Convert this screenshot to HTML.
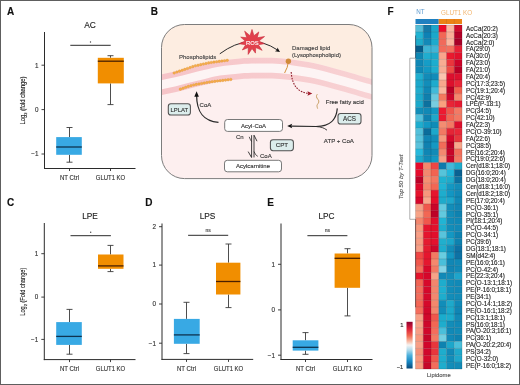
<!DOCTYPE html>
<html><head><meta charset="utf-8"><style>
html,body{margin:0;padding:0;background:#fff;}
body{width:520px;height:385px;overflow:hidden;}
svg{display:block;font-family:"Liberation Sans", sans-serif;will-change:transform;}
text{paint-order:stroke;stroke:currentColor;stroke-width:0.13px;}
</style></head><body>
<svg width="520" height="385" viewBox="0 0 520 385">
<rect x="0" y="0" width="520" height="385" fill="#fff"/>
<text x="6.9" y="15.2" font-size="10" text-anchor="start" fill="#111" color="#111" font-weight="bold" >A</text>
<text x="90" y="27.9" font-size="8.4" text-anchor="middle" fill="#222" color="#222" font-weight="normal" >AC</text>
<line x1="44.5" y1="32" x2="44.5" y2="169.0" stroke="#2b2b2b" stroke-width="1" />
<line x1="44.0" y1="168.5" x2="135.5" y2="168.5" stroke="#2b2b2b" stroke-width="1" />
<line x1="41.5" y1="65.2" x2="44.5" y2="65.2" stroke="#2b2b2b" stroke-width="0.9" />
<text x="38.5" y="67.5" font-size="6.3" text-anchor="end" fill="#333" color="#333" font-weight="normal" >1</text>
<line x1="41.5" y1="109.6" x2="44.5" y2="109.6" stroke="#2b2b2b" stroke-width="0.9" />
<text x="38.5" y="111.89999999999999" font-size="6.3" text-anchor="end" fill="#333" color="#333" font-weight="normal" >0</text>
<line x1="41.5" y1="154" x2="44.5" y2="154" stroke="#2b2b2b" stroke-width="0.9" />
<text x="38.5" y="156.3" font-size="6.3" text-anchor="end" fill="#333" color="#333" font-weight="normal" >−1</text>
<line x1="69.5" y1="168.5" x2="69.5" y2="171.0" stroke="#2b2b2b" stroke-width="0.9" />
<line x1="110.5" y1="168.5" x2="110.5" y2="171.0" stroke="#2b2b2b" stroke-width="0.9" />
<text x="59.9" y="180.1" font-size="6.9" text-anchor="start" fill="#333" color="#333" font-weight="normal" textLength="19.2" lengthAdjust="spacingAndGlyphs">NT Ctrl</text>
<text x="95.8" y="180.1" font-size="6.9" text-anchor="start" fill="#333" color="#333" font-weight="normal" textLength="29.4" lengthAdjust="spacingAndGlyphs">GLUT1 KO</text>
<text transform="translate(25.2,100.5) rotate(-90)" x="-24" y="0" font-size="6.4" fill="#222" color="#222" textLength="48" lengthAdjust="spacingAndGlyphs">Log<tspan font-size="4.4" dy="1.6">2</tspan><tspan dy="-1.6"> (fold change)</tspan></text>
<line x1="70.3" y1="45.3" x2="110.7" y2="45.3" stroke="#2b2b2b" stroke-width="1" />
<circle cx="90.5" cy="42" r="0.7" fill="#444"/>
<line x1="69.5" y1="127.5" x2="69.5" y2="137.1" stroke="#3a3a3a" stroke-width="0.9" />
<line x1="69.5" y1="154.8" x2="69.5" y2="162.2" stroke="#3a3a3a" stroke-width="0.9" />
<line x1="66.5" y1="127.5" x2="72.5" y2="127.5" stroke="#3a3a3a" stroke-width="0.9" />
<line x1="66.5" y1="162.2" x2="72.5" y2="162.2" stroke="#3a3a3a" stroke-width="0.9" />
<rect x="56.2" y="137.1" width="25.599999999999994" height="17.700000000000017" fill="#38a9e4"/>
<line x1="56.2" y1="147" x2="81.8" y2="147" stroke="#0e3350" stroke-width="1.3" />
<line x1="110.5" y1="55.7" x2="110.5" y2="57.8" stroke="#3a3a3a" stroke-width="0.9" />
<line x1="110.5" y1="83.4" x2="110.5" y2="104.6" stroke="#3a3a3a" stroke-width="0.9" />
<line x1="107.5" y1="55.7" x2="113.5" y2="55.7" stroke="#3a3a3a" stroke-width="0.9" />
<line x1="107.5" y1="104.6" x2="113.5" y2="104.6" stroke="#3a3a3a" stroke-width="0.9" />
<rect x="97.8" y="57.8" width="26.0" height="25.60000000000001" fill="#f18e00"/>
<line x1="97.8" y1="61.2" x2="123.8" y2="61.2" stroke="#4a2000" stroke-width="1.3" />
<text x="7.0" y="206.3" font-size="10" text-anchor="start" fill="#111" color="#111" font-weight="bold" >C</text>
<text x="90" y="218.8" font-size="8.3" text-anchor="middle" fill="#222" color="#222" font-weight="normal" >LPE</text>
<line x1="44.3" y1="223" x2="44.3" y2="360.1" stroke="#2b2b2b" stroke-width="1" />
<line x1="43.8" y1="359.6" x2="135.5" y2="359.6" stroke="#2b2b2b" stroke-width="1" />
<line x1="41.3" y1="253.7" x2="44.3" y2="253.7" stroke="#2b2b2b" stroke-width="0.9" />
<text x="38.3" y="256.0" font-size="6.3" text-anchor="end" fill="#333" color="#333" font-weight="normal" >1</text>
<line x1="41.3" y1="297.1" x2="44.3" y2="297.1" stroke="#2b2b2b" stroke-width="0.9" />
<text x="38.3" y="299.40000000000003" font-size="6.3" text-anchor="end" fill="#333" color="#333" font-weight="normal" >0</text>
<line x1="41.3" y1="339.4" x2="44.3" y2="339.4" stroke="#2b2b2b" stroke-width="0.9" />
<text x="38.3" y="341.7" font-size="6.3" text-anchor="end" fill="#333" color="#333" font-weight="normal" >−1</text>
<line x1="69.5" y1="359.6" x2="69.5" y2="362.1" stroke="#2b2b2b" stroke-width="0.9" />
<line x1="110.5" y1="359.6" x2="110.5" y2="362.1" stroke="#2b2b2b" stroke-width="0.9" />
<text x="59.9" y="370.8" font-size="6.9" text-anchor="start" fill="#333" color="#333" font-weight="normal" textLength="19.2" lengthAdjust="spacingAndGlyphs">NT Ctrl</text>
<text x="95.8" y="370.8" font-size="6.9" text-anchor="start" fill="#333" color="#333" font-weight="normal" textLength="29.4" lengthAdjust="spacingAndGlyphs">GLUT1 KO</text>
<text transform="translate(25.2,291.7) rotate(-90)" x="-24" y="0" font-size="6.4" fill="#222" color="#222" textLength="48" lengthAdjust="spacingAndGlyphs">Log<tspan font-size="4.4" dy="1.6">2</tspan><tspan dy="-1.6"> (Fold change)</tspan></text>
<line x1="70.5" y1="235.7" x2="110.9" y2="235.7" stroke="#2b2b2b" stroke-width="1" />
<circle cx="90.7" cy="232.3" r="0.7" fill="#444"/>
<line x1="69.5" y1="309.4" x2="69.5" y2="322.1" stroke="#3a3a3a" stroke-width="0.9" />
<line x1="69.5" y1="344.9" x2="69.5" y2="354.2" stroke="#3a3a3a" stroke-width="0.9" />
<line x1="66.5" y1="309.4" x2="72.5" y2="309.4" stroke="#3a3a3a" stroke-width="0.9" />
<line x1="66.5" y1="354.2" x2="72.5" y2="354.2" stroke="#3a3a3a" stroke-width="0.9" />
<rect x="56.2" y="322.1" width="25.599999999999994" height="22.799999999999955" fill="#38a9e4"/>
<line x1="56.2" y1="336.4" x2="81.8" y2="336.4" stroke="#0e3350" stroke-width="1.3" />
<line x1="110.5" y1="245.4" x2="110.5" y2="254.5" stroke="#3a3a3a" stroke-width="0.9" />
<line x1="110.5" y1="268.8" x2="110.5" y2="271.6" stroke="#3a3a3a" stroke-width="0.9" />
<line x1="107.5" y1="245.4" x2="113.5" y2="245.4" stroke="#3a3a3a" stroke-width="0.9" />
<line x1="107.5" y1="271.6" x2="113.5" y2="271.6" stroke="#3a3a3a" stroke-width="0.9" />
<rect x="98" y="254.5" width="25.5" height="14.300000000000011" fill="#f18e00"/>
<line x1="98" y1="265.9" x2="123.5" y2="265.9" stroke="#4a2000" stroke-width="1.3" />
<text x="145.3" y="206.3" font-size="10" text-anchor="start" fill="#111" color="#111" font-weight="bold" >D</text>
<text x="207.5" y="218.7" font-size="8.3" text-anchor="middle" fill="#222" color="#222" font-weight="normal" >LPS</text>
<line x1="162" y1="223.5" x2="162" y2="359.9" stroke="#2b2b2b" stroke-width="1" />
<line x1="161.5" y1="359.4" x2="253.2" y2="359.4" stroke="#2b2b2b" stroke-width="1" />
<line x1="159" y1="226.7" x2="162" y2="226.7" stroke="#2b2b2b" stroke-width="0.9" />
<text x="156.0" y="229.0" font-size="6.3" text-anchor="end" fill="#333" color="#333" font-weight="normal" >2</text>
<line x1="159" y1="265.1" x2="162" y2="265.1" stroke="#2b2b2b" stroke-width="0.9" />
<text x="156.0" y="267.40000000000003" font-size="6.3" text-anchor="end" fill="#333" color="#333" font-weight="normal" >1</text>
<line x1="159" y1="304" x2="162" y2="304" stroke="#2b2b2b" stroke-width="0.9" />
<text x="156.0" y="306.3" font-size="6.3" text-anchor="end" fill="#333" color="#333" font-weight="normal" >0</text>
<line x1="159" y1="343.2" x2="162" y2="343.2" stroke="#2b2b2b" stroke-width="0.9" />
<text x="156.0" y="345.5" font-size="6.3" text-anchor="end" fill="#333" color="#333" font-weight="normal" >−1</text>
<line x1="186.5" y1="359.4" x2="186.5" y2="361.9" stroke="#2b2b2b" stroke-width="0.9" />
<line x1="228.5" y1="359.4" x2="228.5" y2="361.9" stroke="#2b2b2b" stroke-width="0.9" />
<text x="176.9" y="370.5" font-size="6.9" text-anchor="start" fill="#333" color="#333" font-weight="normal" textLength="19.2" lengthAdjust="spacingAndGlyphs">NT Ctrl</text>
<text x="213.8" y="370.5" font-size="6.9" text-anchor="start" fill="#333" color="#333" font-weight="normal" textLength="29.4" lengthAdjust="spacingAndGlyphs">GLUT1 KO</text>
<line x1="188.1" y1="235.3" x2="228.2" y2="235.3" stroke="#2b2b2b" stroke-width="1" />
<text x="208.14999999999998" y="232" font-size="5" text-anchor="middle" fill="#444" color="#444" font-weight="normal" >ns</text>
<line x1="186.5" y1="302.3" x2="186.5" y2="318.9" stroke="#3a3a3a" stroke-width="0.9" />
<line x1="186.5" y1="343.8" x2="186.5" y2="353.6" stroke="#3a3a3a" stroke-width="0.9" />
<line x1="183.5" y1="302.3" x2="189.5" y2="302.3" stroke="#3a3a3a" stroke-width="0.9" />
<line x1="183.5" y1="353.6" x2="189.5" y2="353.6" stroke="#3a3a3a" stroke-width="0.9" />
<rect x="173.9" y="318.9" width="25.799999999999983" height="24.900000000000034" fill="#38a9e4"/>
<line x1="173.9" y1="334.9" x2="199.7" y2="334.9" stroke="#0e3350" stroke-width="1.3" />
<line x1="228.5" y1="244" x2="228.5" y2="262.7" stroke="#3a3a3a" stroke-width="0.9" />
<line x1="228.5" y1="294.5" x2="228.5" y2="307.6" stroke="#3a3a3a" stroke-width="0.9" />
<line x1="225.5" y1="244" x2="231.5" y2="244" stroke="#3a3a3a" stroke-width="0.9" />
<line x1="225.5" y1="307.6" x2="231.5" y2="307.6" stroke="#3a3a3a" stroke-width="0.9" />
<rect x="216" y="262.7" width="24.400000000000006" height="31.80000000000001" fill="#f18e00"/>
<line x1="216" y1="281.5" x2="240.4" y2="281.5" stroke="#4a2000" stroke-width="1.3" />
<text x="267.3" y="206.1" font-size="10" text-anchor="start" fill="#111" color="#111" font-weight="bold" >E</text>
<text x="326.5" y="218.7" font-size="8.3" text-anchor="middle" fill="#222" color="#222" font-weight="normal" >LPC</text>
<line x1="281" y1="223.5" x2="281" y2="360.0" stroke="#2b2b2b" stroke-width="1" />
<line x1="280.5" y1="359.5" x2="372.5" y2="359.5" stroke="#2b2b2b" stroke-width="1" />
<line x1="278" y1="264.3" x2="281" y2="264.3" stroke="#2b2b2b" stroke-width="0.9" />
<text x="275.0" y="266.6" font-size="6.3" text-anchor="end" fill="#333" color="#333" font-weight="normal" >1</text>
<line x1="278" y1="309.9" x2="281" y2="309.9" stroke="#2b2b2b" stroke-width="0.9" />
<text x="275.0" y="312.2" font-size="6.3" text-anchor="end" fill="#333" color="#333" font-weight="normal" >0</text>
<line x1="278" y1="355.2" x2="281" y2="355.2" stroke="#2b2b2b" stroke-width="0.9" />
<text x="275.0" y="357.5" font-size="6.3" text-anchor="end" fill="#333" color="#333" font-weight="normal" >−1</text>
<line x1="305.5" y1="359.5" x2="305.5" y2="362.0" stroke="#2b2b2b" stroke-width="0.9" />
<line x1="347.5" y1="359.5" x2="347.5" y2="362.0" stroke="#2b2b2b" stroke-width="0.9" />
<text x="295.9" y="370.6" font-size="6.9" text-anchor="start" fill="#333" color="#333" font-weight="normal" textLength="19.2" lengthAdjust="spacingAndGlyphs">NT Ctrl</text>
<text x="332.8" y="370.6" font-size="6.9" text-anchor="start" fill="#333" color="#333" font-weight="normal" textLength="29.4" lengthAdjust="spacingAndGlyphs">GLUT1 KO</text>
<line x1="307.4" y1="235.7" x2="347.4" y2="235.7" stroke="#2b2b2b" stroke-width="1" />
<text x="327.4" y="232.4" font-size="5" text-anchor="middle" fill="#444" color="#444" font-weight="normal" >ns</text>
<line x1="305.5" y1="332.6" x2="305.5" y2="340.3" stroke="#3a3a3a" stroke-width="0.9" />
<line x1="305.5" y1="350.6" x2="305.5" y2="354.3" stroke="#3a3a3a" stroke-width="0.9" />
<line x1="302.5" y1="332.6" x2="308.5" y2="332.6" stroke="#3a3a3a" stroke-width="0.9" />
<line x1="302.5" y1="354.3" x2="308.5" y2="354.3" stroke="#3a3a3a" stroke-width="0.9" />
<rect x="292.7" y="340.3" width="25.69999999999999" height="10.300000000000011" fill="#38a9e4"/>
<line x1="292.7" y1="347.3" x2="318.4" y2="347.3" stroke="#0e3350" stroke-width="1.3" />
<line x1="347.5" y1="248.7" x2="347.5" y2="253.5" stroke="#3a3a3a" stroke-width="0.9" />
<line x1="347.5" y1="287.8" x2="347.5" y2="315.9" stroke="#3a3a3a" stroke-width="0.9" />
<line x1="344.5" y1="248.7" x2="350.5" y2="248.7" stroke="#3a3a3a" stroke-width="0.9" />
<line x1="344.5" y1="315.9" x2="350.5" y2="315.9" stroke="#3a3a3a" stroke-width="0.9" />
<rect x="334.6" y="253.5" width="25.5" height="34.30000000000001" fill="#f18e00"/>
<line x1="334.6" y1="258.3" x2="360.1" y2="258.3" stroke="#4a2000" stroke-width="1.3" />
<text x="150.8" y="14.9" font-size="10" text-anchor="start" fill="#111" color="#111" font-weight="bold" >B</text>
<defs><clipPath id="cb"><rect x="161.5" y="24.5" width="210.5" height="154.1" rx="23"/></clipPath></defs>
<g clip-path="url(#cb)">
<rect x="161.5" y="24.5" width="210.5" height="154.1" fill="#fdefef"/>
<path d="M150,78.2 C151.83,77.58 156.83,75.62 161,74.5 C165.17,73.38 170.17,72.65 175,71.5 C179.83,70.35 185.00,68.87 190,67.6 C195.00,66.33 200.00,65.07 205,63.9 C210.00,62.73 214.17,61.52 220,60.6 C225.83,59.68 233.67,58.87 240,58.4 C246.33,57.93 251.33,57.83 258,57.8 C264.67,57.77 273.00,57.70 280,58.2 C287.00,58.70 293.33,59.75 300,60.8 C306.67,61.85 312.50,62.75 320,64.5 C327.50,66.25 336.33,68.85 345,71.3 C353.67,73.75 365.33,77.22 372,79.2 C378.67,81.18 382.83,82.53 385,83.2 L385,0 L150,0 Z" fill="#fdede1"/>
<path d="M150,84.0 C151.83,83.38 156.83,81.42 161,80.3 C165.17,79.18 170.17,78.45 175,77.3 C179.83,76.15 185.00,74.67 190,73.4 C195.00,72.13 200.00,70.87 205,69.7 C210.00,68.53 214.17,67.32 220,66.4 C225.83,65.48 233.67,64.67 240,64.2 C246.33,63.73 251.33,63.63 258,63.6 C264.67,63.57 273.00,63.50 280,64.0 C287.00,64.50 293.33,65.55 300,66.6 C306.67,67.65 312.50,68.55 320,70.3 C327.50,72.05 336.33,74.65 345,77.1 C353.67,79.55 365.33,83.02 372,85.0 C378.67,86.98 382.83,88.33 385,89.0 L385,98.2 L385,98.2 C382.83,97.53 378.67,96.18 372,94.2 C365.33,92.22 353.67,88.75 345,86.3 C336.33,83.85 327.50,81.25 320,79.5 C312.50,77.75 306.67,76.85 300,75.8 C293.33,74.75 287.00,73.70 280,73.2 C273.00,72.70 264.67,72.77 258,72.8 C251.33,72.83 246.33,72.93 240,73.4 C233.67,73.87 225.83,74.68 220,75.6 C214.17,76.52 210.00,77.73 205,78.9 C200.00,80.07 195.00,81.33 190,82.6 C185.00,83.87 179.83,85.35 175,86.5 C170.17,87.65 165.17,88.38 161,89.5 C156.83,90.62 151.83,92.58 150,93.2 Z" fill="#fdf4f4" opacity="1"/>
<defs><linearGradient id="bg1" gradientUnits="userSpaceOnUse" x1="160" y1="0" x2="372" y2="0"><stop offset="0" stop-color="#f6c4c8"/><stop offset="0.45" stop-color="#f7cacd"/><stop offset="1" stop-color="#f8d2d4"/></linearGradient></defs>
<path d="M150,78.2 C151.83,77.58 156.83,75.62 161,74.5 C165.17,73.38 170.17,72.65 175,71.5 C179.83,70.35 185.00,68.87 190,67.6 C195.00,66.33 200.00,65.07 205,63.9 C210.00,62.73 214.17,61.52 220,60.6 C225.83,59.68 233.67,58.87 240,58.4 C246.33,57.93 251.33,57.83 258,57.8 C264.67,57.77 273.00,57.70 280,58.2 C287.00,58.70 293.33,59.75 300,60.8 C306.67,61.85 312.50,62.75 320,64.5 C327.50,66.25 336.33,68.85 345,71.3 C353.67,73.75 365.33,77.22 372,79.2 C378.67,81.18 382.83,82.53 385,83.2 L385,89.0 L385,89.0 C382.83,88.33 378.67,86.98 372,85.0 C365.33,83.02 353.67,79.55 345,77.1 C336.33,74.65 327.50,72.05 320,70.3 C312.50,68.55 306.67,67.65 300,66.6 C293.33,65.55 287.00,64.50 280,64.0 C273.00,63.50 264.67,63.57 258,63.6 C251.33,63.63 246.33,63.73 240,64.2 C233.67,64.67 225.83,65.48 220,66.4 C214.17,67.32 210.00,68.53 205,69.7 C200.00,70.87 195.00,72.13 190,73.4 C185.00,74.67 179.83,76.15 175,77.3 C170.17,78.45 165.17,79.18 161,80.3 C156.83,81.42 151.83,83.38 150,84.0 Z" fill="url(#bg1)" opacity="1"/>
<path d="M150,93.2 C151.83,92.58 156.83,90.62 161,89.5 C165.17,88.38 170.17,87.65 175,86.5 C179.83,85.35 185.00,83.87 190,82.6 C195.00,81.33 200.00,80.07 205,78.9 C210.00,77.73 214.17,76.52 220,75.6 C225.83,74.68 233.67,73.87 240,73.4 C246.33,72.93 251.33,72.83 258,72.8 C264.67,72.77 273.00,72.70 280,73.2 C287.00,73.70 293.33,74.75 300,75.8 C306.67,76.85 312.50,77.75 320,79.5 C327.50,81.25 336.33,83.85 345,86.3 C353.67,88.75 365.33,92.22 372,94.2 C378.67,96.18 382.83,97.53 385,98.2 L385,104.0 L385,104.0 C382.83,103.33 378.67,101.98 372,100.0 C365.33,98.02 353.67,94.55 345,92.1 C336.33,89.65 327.50,87.05 320,85.3 C312.50,83.55 306.67,82.65 300,81.6 C293.33,80.55 287.00,79.50 280,79.0 C273.00,78.50 264.67,78.57 258,78.6 C251.33,78.63 246.33,78.73 240,79.2 C233.67,79.67 225.83,80.48 220,81.4 C214.17,82.32 210.00,83.53 205,84.7 C200.00,85.87 195.00,87.13 190,88.4 C185.00,89.67 179.83,91.15 175,92.3 C170.17,93.45 165.17,94.18 161,95.3 C156.83,96.42 151.83,98.38 150,99.0 Z" fill="url(#bg1)" opacity="1"/>
</g>
<rect x="161.5" y="24.5" width="210.5" height="154.1" rx="23" fill="none" stroke="#7d7d7d" stroke-width="1"/>
<g fill="#f5ae4a" stroke="#e0953a" stroke-width="0.35"><circle cx="174.20" cy="72.96" r="1.3"/><circle cx="176.85" cy="72.06" r="1.3"/><circle cx="179.50" cy="71.17" r="1.3"/><circle cx="182.15" cy="70.27" r="1.3"/><circle cx="184.80" cy="69.37" r="1.3"/><circle cx="187.45" cy="68.47" r="1.3"/><circle cx="190.10" cy="67.57" r="1.3"/><circle cx="192.75" cy="66.66" r="1.3"/><circle cx="195.40" cy="65.81" r="1.3"/><circle cx="198.05" cy="65.23" r="1.3"/><circle cx="200.70" cy="64.65" r="1.3"/><circle cx="203.35" cy="64.06" r="1.3"/><circle cx="206.00" cy="63.48" r="1.3"/><circle cx="208.65" cy="62.90" r="1.3"/><circle cx="211.30" cy="62.43" r="1.3"/><circle cx="213.95" cy="62.09" r="1.3"/><circle cx="216.60" cy="61.74" r="1.3"/><circle cx="219.25" cy="61.40" r="1.3"/><circle cx="221.90" cy="61.05" r="1.3"/><circle cx="224.55" cy="60.71" r="1.3"/><circle cx="227.20" cy="60.36" r="1.3"/><circle cx="180.40" cy="89.16" r="1.3"/><circle cx="183.05" cy="88.23" r="1.3"/><circle cx="185.70" cy="87.30" r="1.3"/><circle cx="188.35" cy="86.40" r="1.3"/><circle cx="191.00" cy="85.69" r="1.3"/><circle cx="193.65" cy="84.97" r="1.3"/><circle cx="196.30" cy="84.38" r="1.3"/><circle cx="198.95" cy="83.93" r="1.3"/><circle cx="201.60" cy="83.47" r="1.3"/><circle cx="204.25" cy="83.02" r="1.3"/><circle cx="206.90" cy="82.57" r="1.3"/><circle cx="209.55" cy="82.12" r="1.3"/><circle cx="212.20" cy="81.68" r="1.3"/><circle cx="214.85" cy="81.36" r="1.3"/><circle cx="217.50" cy="81.04" r="1.3"/><circle cx="220.15" cy="80.72" r="1.3"/><circle cx="222.80" cy="80.40" r="1.3"/><circle cx="225.45" cy="80.09" r="1.3"/><circle cx="228.10" cy="79.77" r="1.3"/><circle cx="230.75" cy="79.45" r="1.3"/></g>
<text x="179" y="58.8" font-size="6" text-anchor="start" fill="#444" color="#444" font-weight="normal" >Phospholipids</text>
<path d="M219.8,53.8 Q250,31.5 277.5,50" fill="none" stroke="#2a2a2a" stroke-width="1"/>
<path d="M280.00,52.00 L274.90,51.34 L277.01,49.99 L277.47,47.52 Z" fill="#111"/>
<polygon points="252.00,29.46 253.94,35.71 258.81,31.93 257.21,37.71 264.55,36.55 258.83,41.07 264.27,43.68 258.28,44.72 262.13,50.34 255.73,47.51 255.44,53.12 252.00,48.55 248.17,54.40 248.27,47.51 242.33,49.96 245.72,44.72 239.13,43.76 245.17,41.07 240.72,37.11 246.79,37.71 244.65,31.13 250.06,35.71" fill="#e2404c" stroke="#c8283a" stroke-width="0.6"/>
<text x="252.3" y="45" font-size="5.8" text-anchor="middle" fill="#fff" color="#fff" font-weight="normal" >ROS</text>
<text x="292" y="49.9" font-size="6" text-anchor="start" fill="#444" color="#444" font-weight="normal" >Damaged lipid</text>
<text x="292" y="57.2" font-size="5.85" text-anchor="start" fill="#444" color="#444" font-weight="normal" >(Lysophospholipid)</text>
<path d="M288.3,62.5 C287.3,65 287.8,67 286.4,69 C285.6,70.4 285.4,71.5 284.6,73" fill="none" stroke="#d4903c" stroke-width="1"/>
<circle cx="288.4" cy="61.3" r="2.7" fill="#d08a3a"/>
<path d="M291.2,72 Q292.5,92 308.5,93.3" fill="none" stroke="#8e1c2a" stroke-width="1.1" stroke-dasharray="1.6,1.2"/>
<path d="M312.3,93.5 L307.4,91.2 L308.3,93.5 L307.4,95.8 Z" fill="#a01828"/>
<path d="M317.3,94.2 C316,95.8 316.2,97.5 318,99.5 C319.6,101.3 318.6,103 317.4,104.5 C316.6,105.6 317.2,107 317.6,108.6" fill="none" stroke="#c49a5c" stroke-width="0.95"/>
<text x="325.8" y="103.9" font-size="6" text-anchor="start" fill="#333" color="#333" font-weight="normal" >Free fatty acid</text>
<rect x="338" y="113.5" width="23" height="10.5" rx="2.6" fill="#dcedec" stroke="#505050" stroke-width="1.05"/>
<text x="349.5" y="120.95" font-size="6.3" text-anchor="middle" fill="#333" color="#333" font-weight="normal" >ACS</text>
<rect x="168.3" y="103.8" width="22.099999999999994" height="11.200000000000003" rx="2.6" fill="#dcedec" stroke="#505050" stroke-width="1.05"/>
<text x="179.35000000000002" y="111.60000000000001" font-size="5.9" text-anchor="middle" fill="#333" color="#333" font-weight="normal" >LPLAT</text>
<rect x="270.4" y="139.7" width="23.0" height="11.0" rx="2.6" fill="#dcedec" stroke="#505050" stroke-width="1.05"/>
<text x="281.9" y="147.39999999999998" font-size="6.2" text-anchor="middle" fill="#333" color="#333" font-weight="normal" >CPT</text>
<rect x="224.7" y="119.5" width="57.80000000000001" height="11.900000000000006" rx="2.8" fill="#fff" stroke="#6a6a6a" stroke-width="0.9"/>
<text x="253.6" y="127.65" font-size="6" text-anchor="middle" fill="#333" color="#333" font-weight="normal" >Acyl-CoA</text>
<rect x="224.5" y="160.3" width="57.0" height="11.5" rx="2.8" fill="#fff" stroke="#6a6a6a" stroke-width="0.9"/>
<text x="253.0" y="168.25" font-size="6" text-anchor="middle" fill="#333" color="#333" font-weight="normal" >Acylcarnitine</text>
<path d="M337.3,108.4 C336.5,118.5 332,126.3 316,126.5 L291,126.1" fill="none" stroke="#2a2a2a" stroke-width="1.2"/>
<path d="M287.20,126.00 L292.20,123.80 L291.20,126.00 L292.20,128.20 Z" fill="#111"/>
<path d="M327,130.2 C324,127.8 321,126.9 316.5,126.6" fill="none" stroke="#2a2a2a" stroke-width="0.9"/>
<text x="323.8" y="142.6" font-size="6.1" text-anchor="start" fill="#333" color="#333" font-weight="normal" >ATP + CoA</text>
<path d="M218.5,122.4 C203,121 196.6,112 196.6,95" fill="none" stroke="#2a2a2a" stroke-width="1.25"/>
<path d="M196.6,91.3 L194.3,96.8 L198.9,96.8 Z" fill="#111"/>
<text x="199.6" y="106.8" font-size="6" text-anchor="start" fill="#333" color="#333" font-weight="normal" >CoA</text>
<line x1="251.6" y1="135.2" x2="251.6" y2="157.4" stroke="#2a2a2a" stroke-width="0.9" />
<path d="M248.2,151.6 L251.6,157.6" stroke="#2a2a2a" stroke-width="0.9" fill="none"/>
<line x1="254" y1="135.2" x2="254" y2="157.4" stroke="#2a2a2a" stroke-width="0.9" />
<path d="M257.0,141.2 L254,135.2" stroke="#2a2a2a" stroke-width="0.9" fill="none"/>
<path d="M249.2,136.8 Q250.2,139.6 251.6,141.6" stroke="#2a2a2a" stroke-width="0.8" fill="none"/>
<path d="M254,151.5 Q255.2,155.2 257.8,156.4" stroke="#2a2a2a" stroke-width="0.8" fill="none"/>
<text x="236" y="139.4" font-size="6" text-anchor="start" fill="#333" color="#333" font-weight="normal" >Cn</text>
<text x="260" y="157.6" font-size="6" text-anchor="start" fill="#333" color="#333" font-weight="normal" >CoA</text>
<text x="387.6" y="15.0" font-size="10" text-anchor="start" fill="#111" color="#111" font-weight="bold" >F</text>
<text x="416.2" y="14.3" font-size="6.3" text-anchor="start" fill="#5e9bd0" color="#5e9bd0" font-weight="normal" style="stroke:none">NT</text>
<text x="441" y="14.5" font-size="6.3" text-anchor="start" fill="#f2b46c" color="#f2b46c" font-weight="normal" style="stroke:none">GLUT1 KO</text>
<rect x="415.5" y="19" width="23.25" height="5" fill="#1f80c0"/>
<rect x="438.75" y="19" width="23.25" height="5" fill="#ec8315"/>
<line x1="446.5" y1="19" x2="446.5" y2="24" stroke="#c06a20" stroke-width="0.4" />
<line x1="454.25" y1="19" x2="454.25" y2="24" stroke="#c06a20" stroke-width="0.4" />
<g><rect x="415.50" y="25.00" width="7.80" height="6.93" fill="#53bcd7"/><rect x="423.25" y="25.00" width="7.80" height="6.93" fill="#1479a8"/><rect x="431.00" y="25.00" width="7.80" height="6.93" fill="#1ea6cb"/><rect x="438.75" y="25.00" width="7.80" height="6.93" fill="#ed0c29"/><rect x="446.50" y="25.00" width="7.80" height="6.93" fill="#fbb79e"/><rect x="454.25" y="25.00" width="7.80" height="6.93" fill="#cd0b2b"/><rect x="415.50" y="31.88" width="7.80" height="6.93" fill="#22b3d2"/><rect x="423.25" y="31.88" width="7.80" height="6.93" fill="#0e81b4"/><rect x="431.00" y="31.88" width="7.80" height="6.93" fill="#1ba8cb"/><rect x="438.75" y="31.88" width="7.80" height="6.93" fill="#f26756"/><rect x="446.50" y="31.88" width="7.80" height="6.93" fill="#faaf98"/><rect x="454.25" y="31.88" width="7.80" height="6.93" fill="#b40228"/><rect x="415.50" y="38.76" width="7.80" height="6.93" fill="#1eaccb"/><rect x="423.25" y="38.76" width="7.80" height="6.93" fill="#1389b7"/><rect x="431.00" y="38.76" width="7.80" height="6.93" fill="#1daacd"/><rect x="438.75" y="38.76" width="7.80" height="6.93" fill="#f06a5b"/><rect x="446.50" y="38.76" width="7.80" height="6.93" fill="#fbb59e"/><rect x="454.25" y="38.76" width="7.80" height="6.93" fill="#a80028"/><rect x="415.50" y="45.64" width="7.80" height="6.93" fill="#045c8a"/><rect x="423.25" y="45.64" width="7.80" height="6.93" fill="#3eb4d4"/><rect x="431.00" y="45.64" width="7.80" height="6.93" fill="#41b5d6"/><rect x="438.75" y="45.64" width="7.80" height="6.93" fill="#f26c5c"/><rect x="446.50" y="45.64" width="7.80" height="6.93" fill="#f3705e"/><rect x="454.25" y="45.64" width="7.80" height="6.93" fill="#e82136"/><rect x="415.50" y="52.52" width="7.80" height="6.93" fill="#0e88b4"/><rect x="423.25" y="52.52" width="7.80" height="6.93" fill="#20adcf"/><rect x="431.00" y="52.52" width="7.80" height="6.93" fill="#1ea9ca"/><rect x="438.75" y="52.52" width="7.80" height="6.93" fill="#f9a48c"/><rect x="446.50" y="52.52" width="7.80" height="6.93" fill="#e9192e"/><rect x="454.25" y="52.52" width="7.80" height="6.93" fill="#e2102c"/><rect x="415.50" y="59.40" width="7.80" height="6.93" fill="#0f88b6"/><rect x="423.25" y="59.40" width="7.80" height="6.93" fill="#159dc7"/><rect x="431.00" y="59.40" width="7.80" height="6.93" fill="#1dadce"/><rect x="438.75" y="59.40" width="7.80" height="6.93" fill="#f8ac92"/><rect x="446.50" y="59.40" width="7.80" height="6.93" fill="#ea363c"/><rect x="454.25" y="59.40" width="7.80" height="6.93" fill="#cd0529"/><rect x="415.50" y="66.28" width="7.80" height="6.93" fill="#0e8ab7"/><rect x="423.25" y="66.28" width="7.80" height="6.93" fill="#1398c3"/><rect x="431.00" y="66.28" width="7.80" height="6.93" fill="#1eadce"/><rect x="438.75" y="66.28" width="7.80" height="6.93" fill="#f7ad95"/><rect x="446.50" y="66.28" width="7.80" height="6.93" fill="#ee4c44"/><rect x="454.25" y="66.28" width="7.80" height="6.93" fill="#b90026"/><rect x="415.50" y="73.16" width="7.80" height="6.93" fill="#1faecf"/><rect x="423.25" y="73.16" width="7.80" height="6.93" fill="#128bb8"/><rect x="431.00" y="73.16" width="7.80" height="6.93" fill="#118cb9"/><rect x="438.75" y="73.16" width="7.80" height="6.93" fill="#fbc4ae"/><rect x="446.50" y="73.16" width="7.80" height="6.93" fill="#dd0f2e"/><rect x="454.25" y="73.16" width="7.80" height="6.93" fill="#de112f"/><rect x="415.50" y="80.04" width="7.80" height="6.93" fill="#1ba8cb"/><rect x="423.25" y="80.04" width="7.80" height="6.93" fill="#128db9"/><rect x="431.00" y="80.04" width="7.80" height="6.93" fill="#1eabcd"/><rect x="438.75" y="80.04" width="7.80" height="6.93" fill="#f8a78d"/><rect x="446.50" y="80.04" width="7.80" height="6.93" fill="#dd102c"/><rect x="454.25" y="80.04" width="7.80" height="6.93" fill="#e82638"/><rect x="415.50" y="86.92" width="7.80" height="6.93" fill="#21accd"/><rect x="423.25" y="86.92" width="7.80" height="6.93" fill="#1087b5"/><rect x="431.00" y="86.92" width="7.80" height="6.93" fill="#41bad9"/><rect x="438.75" y="86.92" width="7.80" height="6.93" fill="#fab79e"/><rect x="446.50" y="86.92" width="7.80" height="6.93" fill="#b90026"/><rect x="454.25" y="86.92" width="7.80" height="6.93" fill="#f2614e"/><rect x="415.50" y="93.80" width="7.80" height="6.93" fill="#1aa8ca"/><rect x="423.25" y="93.80" width="7.80" height="6.93" fill="#0f7fad"/><rect x="431.00" y="93.80" width="7.80" height="6.93" fill="#6ac9de"/><rect x="438.75" y="93.80" width="7.80" height="6.93" fill="#f4785e"/><rect x="446.50" y="93.80" width="7.80" height="6.93" fill="#cd072b"/><rect x="454.25" y="93.80" width="7.80" height="6.93" fill="#f5886d"/><rect x="415.50" y="100.68" width="7.80" height="6.93" fill="#1ca9ca"/><rect x="423.25" y="100.68" width="7.80" height="6.93" fill="#0d719e"/><rect x="431.00" y="100.68" width="7.80" height="6.93" fill="#77cde0"/><rect x="438.75" y="100.68" width="7.80" height="6.93" fill="#f9a17f"/><rect x="446.50" y="100.68" width="7.80" height="6.93" fill="#e82536"/><rect x="454.25" y="100.68" width="7.80" height="6.93" fill="#e51a32"/><rect x="415.50" y="107.56" width="7.80" height="6.93" fill="#118eb9"/><rect x="423.25" y="107.56" width="7.80" height="6.93" fill="#1189b6"/><rect x="431.00" y="107.56" width="7.80" height="6.93" fill="#1397c3"/><rect x="438.75" y="107.56" width="7.80" height="6.93" fill="#ed1a31"/><rect x="446.50" y="107.56" width="7.80" height="6.93" fill="#f0574c"/><rect x="454.25" y="107.56" width="7.80" height="6.93" fill="#f37a65"/><rect x="415.50" y="114.44" width="7.80" height="6.93" fill="#52c0db"/><rect x="423.25" y="114.44" width="7.80" height="6.93" fill="#0f81af"/><rect x="431.00" y="114.44" width="7.80" height="6.93" fill="#1ea7ca"/><rect x="438.75" y="114.44" width="7.80" height="6.93" fill="#e91a31"/><rect x="446.50" y="114.44" width="7.80" height="6.93" fill="#f26754"/><rect x="454.25" y="114.44" width="7.80" height="6.93" fill="#f37863"/><rect x="415.50" y="121.32" width="7.80" height="6.93" fill="#1eadce"/><rect x="423.25" y="121.32" width="7.80" height="6.93" fill="#1398c3"/><rect x="431.00" y="121.32" width="7.80" height="6.93" fill="#108cb7"/><rect x="438.75" y="121.32" width="7.80" height="6.93" fill="#f38d72"/><rect x="446.50" y="121.32" width="7.80" height="6.93" fill="#f27963"/><rect x="454.25" y="121.32" width="7.80" height="6.93" fill="#dd0f2d"/><rect x="415.50" y="128.20" width="7.80" height="6.93" fill="#52c0da"/><rect x="423.25" y="128.20" width="7.80" height="6.93" fill="#0b6d9b"/><rect x="431.00" y="128.20" width="7.80" height="6.93" fill="#1ca7cb"/><rect x="438.75" y="128.20" width="7.80" height="6.93" fill="#f27863"/><rect x="446.50" y="128.20" width="7.80" height="6.93" fill="#e52536"/><rect x="454.25" y="128.20" width="7.80" height="6.93" fill="#e92738"/><rect x="415.50" y="135.08" width="7.80" height="6.93" fill="#56c2db"/><rect x="423.25" y="135.08" width="7.80" height="6.93" fill="#1185b4"/><rect x="431.00" y="135.08" width="7.80" height="6.93" fill="#128db9"/><rect x="438.75" y="135.08" width="7.80" height="6.93" fill="#f6987d"/><rect x="446.50" y="135.08" width="7.80" height="6.93" fill="#d5092b"/><rect x="454.25" y="135.08" width="7.80" height="6.93" fill="#e8363c"/><rect x="415.50" y="141.96" width="7.80" height="6.93" fill="#5ac2db"/><rect x="423.25" y="141.96" width="7.80" height="6.93" fill="#1081b0"/><rect x="431.00" y="141.96" width="7.80" height="6.93" fill="#1498c3"/><rect x="438.75" y="141.96" width="7.80" height="6.93" fill="#f26b58"/><rect x="446.50" y="141.96" width="7.80" height="6.93" fill="#bc0227"/><rect x="454.25" y="141.96" width="7.80" height="6.93" fill="#f7a78b"/><rect x="415.50" y="148.84" width="7.80" height="6.93" fill="#26b9dc"/><rect x="423.25" y="148.84" width="7.80" height="6.93" fill="#0f86b4"/><rect x="431.00" y="148.84" width="7.80" height="6.93" fill="#128bb7"/><rect x="438.75" y="148.84" width="7.80" height="6.93" fill="#f3886f"/><rect x="446.50" y="148.84" width="7.80" height="6.93" fill="#c70529"/><rect x="454.25" y="148.84" width="7.80" height="6.93" fill="#f36d5a"/><rect x="415.50" y="155.72" width="7.80" height="6.93" fill="#1ea9cb"/><rect x="423.25" y="155.72" width="7.80" height="6.93" fill="#118bb7"/><rect x="431.00" y="155.72" width="7.80" height="6.93" fill="#1498c3"/><rect x="438.75" y="155.72" width="7.80" height="6.93" fill="#f89e85"/><rect x="446.50" y="155.72" width="7.80" height="6.93" fill="#c50529"/><rect x="454.25" y="155.72" width="7.80" height="6.93" fill="#f37863"/><rect x="415.50" y="162.60" width="7.80" height="6.93" fill="#e50b2a"/><rect x="423.25" y="162.60" width="7.80" height="6.93" fill="#f5886d"/><rect x="431.00" y="162.60" width="7.80" height="6.93" fill="#f04644"/><rect x="438.75" y="162.60" width="7.80" height="6.93" fill="#0f7aac"/><rect x="446.50" y="162.60" width="7.80" height="6.93" fill="#43b9d9"/><rect x="454.25" y="162.60" width="7.80" height="6.93" fill="#1eabcb"/><rect x="415.50" y="169.48" width="7.80" height="6.93" fill="#e50b2c"/><rect x="423.25" y="169.48" width="7.80" height="6.93" fill="#f3886f"/><rect x="431.00" y="169.48" width="7.80" height="6.93" fill="#f26351"/><rect x="438.75" y="169.48" width="7.80" height="6.93" fill="#56c4da"/><rect x="446.50" y="169.48" width="7.80" height="6.93" fill="#22b6db"/><rect x="454.25" y="169.48" width="7.80" height="6.93" fill="#0a6192"/><rect x="415.50" y="176.36" width="7.80" height="6.93" fill="#bc0127"/><rect x="423.25" y="176.36" width="7.80" height="6.93" fill="#f59073"/><rect x="431.00" y="176.36" width="7.80" height="6.93" fill="#f37862"/><rect x="438.75" y="176.36" width="7.80" height="6.93" fill="#1fb2d0"/><rect x="446.50" y="176.36" width="7.80" height="6.93" fill="#1eabcb"/><rect x="454.25" y="176.36" width="7.80" height="6.93" fill="#0c72a2"/><rect x="415.50" y="183.24" width="7.80" height="6.93" fill="#dd092b"/><rect x="423.25" y="183.24" width="7.80" height="6.93" fill="#f5866d"/><rect x="431.00" y="183.24" width="7.80" height="6.93" fill="#f26754"/><rect x="438.75" y="183.24" width="7.80" height="6.93" fill="#21b4d4"/><rect x="446.50" y="183.24" width="7.80" height="6.93" fill="#1398c3"/><rect x="454.25" y="183.24" width="7.80" height="6.93" fill="#138db9"/><rect x="415.50" y="190.12" width="7.80" height="6.93" fill="#e5132c"/><rect x="423.25" y="190.12" width="7.80" height="6.93" fill="#f7987d"/><rect x="431.00" y="190.12" width="7.80" height="6.93" fill="#e5152e"/><rect x="438.75" y="190.12" width="7.80" height="6.93" fill="#1eadcd"/><rect x="446.50" y="190.12" width="7.80" height="6.93" fill="#1296c3"/><rect x="454.25" y="190.12" width="7.80" height="6.93" fill="#1289b7"/><rect x="415.50" y="197.00" width="7.80" height="6.93" fill="#d5072b"/><rect x="423.25" y="197.00" width="7.80" height="6.93" fill="#f8a78b"/><rect x="431.00" y="197.00" width="7.80" height="6.93" fill="#e50f2b"/><rect x="438.75" y="197.00" width="7.80" height="6.93" fill="#1eabcb"/><rect x="446.50" y="197.00" width="7.80" height="6.93" fill="#1ea7cb"/><rect x="454.25" y="197.00" width="7.80" height="6.93" fill="#1189b7"/><rect x="415.50" y="203.88" width="7.80" height="6.93" fill="#f79e85"/><rect x="423.25" y="203.88" width="7.80" height="6.93" fill="#f0574c"/><rect x="431.00" y="203.88" width="7.80" height="6.93" fill="#c90529"/><rect x="438.75" y="203.88" width="7.80" height="6.93" fill="#64cbe0"/><rect x="446.50" y="203.88" width="7.80" height="6.93" fill="#128db9"/><rect x="454.25" y="203.88" width="7.80" height="6.93" fill="#1185b4"/><rect x="415.50" y="210.76" width="7.80" height="6.93" fill="#f7a387"/><rect x="423.25" y="210.76" width="7.80" height="6.93" fill="#f26754"/><rect x="431.00" y="210.76" width="7.80" height="6.93" fill="#bc0227"/><rect x="438.75" y="210.76" width="7.80" height="6.93" fill="#62c9de"/><rect x="446.50" y="210.76" width="7.80" height="6.93" fill="#128db9"/><rect x="454.25" y="210.76" width="7.80" height="6.93" fill="#0e82b0"/><rect x="415.50" y="217.64" width="7.80" height="6.93" fill="#f3866d"/><rect x="423.25" y="217.64" width="7.80" height="6.93" fill="#f0574c"/><rect x="431.00" y="217.64" width="7.80" height="6.93" fill="#e10f2d"/><rect x="438.75" y="217.64" width="7.80" height="6.93" fill="#21b4d4"/><rect x="446.50" y="217.64" width="7.80" height="6.93" fill="#128bb8"/><rect x="454.25" y="217.64" width="7.80" height="6.93" fill="#1088b6"/><rect x="415.50" y="224.52" width="7.80" height="6.93" fill="#f7987d"/><rect x="423.25" y="224.52" width="7.80" height="6.93" fill="#e5152e"/><rect x="431.00" y="224.52" width="7.80" height="6.93" fill="#e3102c"/><rect x="438.75" y="224.52" width="7.80" height="6.93" fill="#1eadcd"/><rect x="446.50" y="224.52" width="7.80" height="6.93" fill="#128db9"/><rect x="454.25" y="224.52" width="7.80" height="6.93" fill="#1289b7"/><rect x="415.50" y="231.40" width="7.80" height="6.93" fill="#f89e85"/><rect x="423.25" y="231.40" width="7.80" height="6.93" fill="#e5152e"/><rect x="431.00" y="231.40" width="7.80" height="6.93" fill="#e10f2c"/><rect x="438.75" y="231.40" width="7.80" height="6.93" fill="#58c4dc"/><rect x="446.50" y="231.40" width="7.80" height="6.93" fill="#1398c3"/><rect x="454.25" y="231.40" width="7.80" height="6.93" fill="#0e82b0"/><rect x="415.50" y="238.28" width="7.80" height="6.93" fill="#f79a81"/><rect x="423.25" y="238.28" width="7.80" height="6.93" fill="#e51b30"/><rect x="431.00" y="238.28" width="7.80" height="6.93" fill="#e3112e"/><rect x="438.75" y="238.28" width="7.80" height="6.93" fill="#21afcd"/><rect x="446.50" y="238.28" width="7.80" height="6.93" fill="#1ca7cb"/><rect x="454.25" y="238.28" width="7.80" height="6.93" fill="#0e82b0"/><rect x="415.50" y="245.16" width="7.80" height="6.93" fill="#f79e85"/><rect x="423.25" y="245.16" width="7.80" height="6.93" fill="#e51b30"/><rect x="431.00" y="245.16" width="7.80" height="6.93" fill="#cd072b"/><rect x="438.75" y="245.16" width="7.80" height="6.93" fill="#1eadcd"/><rect x="446.50" y="245.16" width="7.80" height="6.93" fill="#128db9"/><rect x="454.25" y="245.16" width="7.80" height="6.93" fill="#0d72a5"/><rect x="415.50" y="252.04" width="7.80" height="6.93" fill="#f04644"/><rect x="423.25" y="252.04" width="7.80" height="6.93" fill="#e5152e"/><rect x="431.00" y="252.04" width="7.80" height="6.93" fill="#f37a63"/><rect x="438.75" y="252.04" width="7.80" height="6.93" fill="#68cde0"/><rect x="446.50" y="252.04" width="7.80" height="6.93" fill="#1498c3"/><rect x="454.25" y="252.04" width="7.80" height="6.93" fill="#0d72a5"/><rect x="415.50" y="258.92" width="7.80" height="6.93" fill="#f2574c"/><rect x="423.25" y="258.92" width="7.80" height="6.93" fill="#e5172f"/><rect x="431.00" y="258.92" width="7.80" height="6.93" fill="#f5886d"/><rect x="438.75" y="258.92" width="7.80" height="6.93" fill="#4abfda"/><rect x="446.50" y="258.92" width="7.80" height="6.93" fill="#1187b5"/><rect x="454.25" y="258.92" width="7.80" height="6.93" fill="#1189b7"/><rect x="415.50" y="265.80" width="7.80" height="6.93" fill="#f46d5c"/><rect x="423.25" y="265.80" width="7.80" height="6.93" fill="#d9092b"/><rect x="431.00" y="265.80" width="7.80" height="6.93" fill="#f37a63"/><rect x="438.75" y="265.80" width="7.80" height="6.93" fill="#85d4e6"/><rect x="446.50" y="265.80" width="7.80" height="6.93" fill="#1185b4"/><rect x="454.25" y="265.80" width="7.80" height="6.93" fill="#1189b7"/><rect x="415.50" y="272.68" width="7.80" height="6.93" fill="#e5132c"/><rect x="423.25" y="272.68" width="7.80" height="6.93" fill="#d5072b"/><rect x="431.00" y="272.68" width="7.80" height="6.93" fill="#f7a387"/><rect x="438.75" y="272.68" width="7.80" height="6.93" fill="#1189b7"/><rect x="446.50" y="272.68" width="7.80" height="6.93" fill="#128db9"/><rect x="454.25" y="272.68" width="7.80" height="6.93" fill="#1ea5cb"/><rect x="415.50" y="279.56" width="7.80" height="6.93" fill="#f26554"/><rect x="423.25" y="279.56" width="7.80" height="6.93" fill="#d7092b"/><rect x="431.00" y="279.56" width="7.80" height="6.93" fill="#f3866d"/><rect x="438.75" y="279.56" width="7.80" height="6.93" fill="#1eadcd"/><rect x="446.50" y="279.56" width="7.80" height="6.93" fill="#128db9"/><rect x="454.25" y="279.56" width="7.80" height="6.93" fill="#1189b7"/><rect x="415.50" y="286.44" width="7.80" height="6.93" fill="#f46d5c"/><rect x="423.25" y="286.44" width="7.80" height="6.93" fill="#d5092b"/><rect x="431.00" y="286.44" width="7.80" height="6.93" fill="#f3866d"/><rect x="438.75" y="286.44" width="7.80" height="6.93" fill="#1fb0d0"/><rect x="446.50" y="286.44" width="7.80" height="6.93" fill="#128db9"/><rect x="454.25" y="286.44" width="7.80" height="6.93" fill="#1189b7"/><rect x="415.50" y="293.32" width="7.80" height="6.93" fill="#f46d5c"/><rect x="423.25" y="293.32" width="7.80" height="6.93" fill="#d5092b"/><rect x="431.00" y="293.32" width="7.80" height="6.93" fill="#f3886f"/><rect x="438.75" y="293.32" width="7.80" height="6.93" fill="#1eadcd"/><rect x="446.50" y="293.32" width="7.80" height="6.93" fill="#128db9"/><rect x="454.25" y="293.32" width="7.80" height="6.93" fill="#128bb7"/><rect x="415.50" y="300.20" width="7.80" height="6.93" fill="#f46756"/><rect x="423.25" y="300.20" width="7.80" height="6.93" fill="#d5092b"/><rect x="431.00" y="300.20" width="7.80" height="6.93" fill="#f3886d"/><rect x="438.75" y="300.20" width="7.80" height="6.93" fill="#118db9"/><rect x="446.50" y="300.20" width="7.80" height="6.93" fill="#1ea9cb"/><rect x="454.25" y="300.20" width="7.80" height="6.93" fill="#1189b7"/><rect x="415.50" y="307.08" width="7.80" height="6.93" fill="#f46d5c"/><rect x="423.25" y="307.08" width="7.80" height="6.93" fill="#d1072b"/><rect x="431.00" y="307.08" width="7.80" height="6.93" fill="#f3866d"/><rect x="438.75" y="307.08" width="7.80" height="6.93" fill="#128db9"/><rect x="446.50" y="307.08" width="7.80" height="6.93" fill="#1ca9cb"/><rect x="454.25" y="307.08" width="7.80" height="6.93" fill="#1085b4"/><rect x="415.50" y="313.96" width="7.80" height="6.93" fill="#f79e85"/><rect x="423.25" y="313.96" width="7.80" height="6.93" fill="#d1072b"/><rect x="431.00" y="313.96" width="7.80" height="6.93" fill="#f0574c"/><rect x="438.75" y="313.96" width="7.80" height="6.93" fill="#1aaccd"/><rect x="446.50" y="313.96" width="7.80" height="6.93" fill="#1caccd"/><rect x="454.25" y="313.96" width="7.80" height="6.93" fill="#1189b7"/><rect x="415.50" y="320.84" width="7.80" height="6.93" fill="#f7a387"/><rect x="423.25" y="320.84" width="7.80" height="6.93" fill="#cd072b"/><rect x="431.00" y="320.84" width="7.80" height="6.93" fill="#f26754"/><rect x="438.75" y="320.84" width="7.80" height="6.93" fill="#1eadcd"/><rect x="446.50" y="320.84" width="7.80" height="6.93" fill="#128db9"/><rect x="454.25" y="320.84" width="7.80" height="6.93" fill="#1189b7"/><rect x="415.50" y="327.72" width="7.80" height="6.93" fill="#f79e85"/><rect x="423.25" y="327.72" width="7.80" height="6.93" fill="#d1072b"/><rect x="431.00" y="327.72" width="7.80" height="6.93" fill="#f46d5c"/><rect x="438.75" y="327.72" width="7.80" height="6.93" fill="#4abfda"/><rect x="446.50" y="327.72" width="7.80" height="6.93" fill="#1189b7"/><rect x="454.25" y="327.72" width="7.80" height="6.93" fill="#128bb7"/><rect x="415.50" y="334.60" width="7.80" height="6.93" fill="#f7987d"/><rect x="423.25" y="334.60" width="7.80" height="6.93" fill="#c50529"/><rect x="431.00" y="334.60" width="7.80" height="6.93" fill="#f37a63"/><rect x="438.75" y="334.60" width="7.80" height="6.93" fill="#73d0e2"/><rect x="446.50" y="334.60" width="7.80" height="6.93" fill="#1189b7"/><rect x="454.25" y="334.60" width="7.80" height="6.93" fill="#0e82b0"/><rect x="415.50" y="341.48" width="7.80" height="6.93" fill="#f79e85"/><rect x="423.25" y="341.48" width="7.80" height="6.93" fill="#d1072b"/><rect x="431.00" y="341.48" width="7.80" height="6.93" fill="#e8363c"/><rect x="438.75" y="341.48" width="7.80" height="6.93" fill="#0e82b0"/><rect x="446.50" y="341.48" width="7.80" height="6.93" fill="#1ca7cb"/><rect x="454.25" y="341.48" width="7.80" height="6.93" fill="#4abfda"/><rect x="415.50" y="348.36" width="7.80" height="6.93" fill="#f58e75"/><rect x="423.25" y="348.36" width="7.80" height="6.93" fill="#d1072b"/><rect x="431.00" y="348.36" width="7.80" height="6.93" fill="#e8363c"/><rect x="438.75" y="348.36" width="7.80" height="6.93" fill="#1eadcd"/><rect x="446.50" y="348.36" width="7.80" height="6.93" fill="#1189b7"/><rect x="454.25" y="348.36" width="7.80" height="6.93" fill="#1ea9cb"/><rect x="415.50" y="355.24" width="7.80" height="6.93" fill="#f7987d"/><rect x="423.25" y="355.24" width="7.80" height="6.93" fill="#d5092b"/><rect x="431.00" y="355.24" width="7.80" height="6.93" fill="#f0574c"/><rect x="438.75" y="355.24" width="7.80" height="6.93" fill="#1eadcd"/><rect x="446.50" y="355.24" width="7.80" height="6.93" fill="#128db9"/><rect x="454.25" y="355.24" width="7.80" height="6.93" fill="#1ea7cb"/><rect x="415.50" y="362.12" width="7.80" height="6.93" fill="#f7987d"/><rect x="423.25" y="362.12" width="7.80" height="6.93" fill="#c50529"/><rect x="431.00" y="362.12" width="7.80" height="6.93" fill="#f46d5c"/><rect x="438.75" y="362.12" width="7.80" height="6.93" fill="#1eadcd"/><rect x="446.50" y="362.12" width="7.80" height="6.93" fill="#128db9"/><rect x="454.25" y="362.12" width="7.80" height="6.93" fill="#128bb7"/></g>
<g stroke="#000" stroke-opacity="0.22" stroke-width="0.6"><line x1="415.5" y1="25.00" x2="462.0" y2="25.00"/><line x1="415.5" y1="31.88" x2="462.0" y2="31.88"/><line x1="415.5" y1="38.76" x2="462.0" y2="38.76"/><line x1="415.5" y1="45.64" x2="462.0" y2="45.64"/><line x1="415.5" y1="52.52" x2="462.0" y2="52.52"/><line x1="415.5" y1="59.40" x2="462.0" y2="59.40"/><line x1="415.5" y1="66.28" x2="462.0" y2="66.28"/><line x1="415.5" y1="73.16" x2="462.0" y2="73.16"/><line x1="415.5" y1="80.04" x2="462.0" y2="80.04"/><line x1="415.5" y1="86.92" x2="462.0" y2="86.92"/><line x1="415.5" y1="93.80" x2="462.0" y2="93.80"/><line x1="415.5" y1="100.68" x2="462.0" y2="100.68"/><line x1="415.5" y1="107.56" x2="462.0" y2="107.56"/><line x1="415.5" y1="114.44" x2="462.0" y2="114.44"/><line x1="415.5" y1="121.32" x2="462.0" y2="121.32"/><line x1="415.5" y1="128.20" x2="462.0" y2="128.20"/><line x1="415.5" y1="135.08" x2="462.0" y2="135.08"/><line x1="415.5" y1="141.96" x2="462.0" y2="141.96"/><line x1="415.5" y1="148.84" x2="462.0" y2="148.84"/><line x1="415.5" y1="155.72" x2="462.0" y2="155.72"/><line x1="415.5" y1="162.60" x2="462.0" y2="162.60"/><line x1="415.5" y1="169.48" x2="462.0" y2="169.48"/><line x1="415.5" y1="176.36" x2="462.0" y2="176.36"/><line x1="415.5" y1="183.24" x2="462.0" y2="183.24"/><line x1="415.5" y1="190.12" x2="462.0" y2="190.12"/><line x1="415.5" y1="197.00" x2="462.0" y2="197.00"/><line x1="415.5" y1="203.88" x2="462.0" y2="203.88"/><line x1="415.5" y1="210.76" x2="462.0" y2="210.76"/><line x1="415.5" y1="217.64" x2="462.0" y2="217.64"/><line x1="415.5" y1="224.52" x2="462.0" y2="224.52"/><line x1="415.5" y1="231.40" x2="462.0" y2="231.40"/><line x1="415.5" y1="238.28" x2="462.0" y2="238.28"/><line x1="415.5" y1="245.16" x2="462.0" y2="245.16"/><line x1="415.5" y1="252.04" x2="462.0" y2="252.04"/><line x1="415.5" y1="258.92" x2="462.0" y2="258.92"/><line x1="415.5" y1="265.80" x2="462.0" y2="265.80"/><line x1="415.5" y1="272.68" x2="462.0" y2="272.68"/><line x1="415.5" y1="279.56" x2="462.0" y2="279.56"/><line x1="415.5" y1="286.44" x2="462.0" y2="286.44"/><line x1="415.5" y1="293.32" x2="462.0" y2="293.32"/><line x1="415.5" y1="300.20" x2="462.0" y2="300.20"/><line x1="415.5" y1="307.08" x2="462.0" y2="307.08"/><line x1="415.5" y1="313.96" x2="462.0" y2="313.96"/><line x1="415.5" y1="320.84" x2="462.0" y2="320.84"/><line x1="415.5" y1="327.72" x2="462.0" y2="327.72"/><line x1="415.5" y1="334.60" x2="462.0" y2="334.60"/><line x1="415.5" y1="341.48" x2="462.0" y2="341.48"/><line x1="415.5" y1="348.36" x2="462.0" y2="348.36"/><line x1="415.5" y1="355.24" x2="462.0" y2="355.24"/><line x1="415.5" y1="362.12" x2="462.0" y2="362.12"/><line x1="415.5" y1="369.00" x2="462.0" y2="369.00"/><line x1="415.50" y1="25.0" x2="415.50" y2="369.0"/><line x1="423.25" y1="25.0" x2="423.25" y2="369.0"/><line x1="431.00" y1="25.0" x2="431.00" y2="369.0"/><line x1="438.75" y1="25.0" x2="438.75" y2="369.0"/><line x1="446.50" y1="25.0" x2="446.50" y2="369.0"/><line x1="454.25" y1="25.0" x2="454.25" y2="369.0"/><line x1="462.00" y1="25.0" x2="462.00" y2="369.0"/></g>
<g font-size="6.3" fill="#2a2a2a" style="stroke:none"><text x="466" y="30.74">AcCa(20:2)</text><text x="466" y="37.62">AcCa(20:3)</text><text x="466" y="44.50">AcCa(2:0)</text><text x="466" y="51.38">FA(29:0)</text><text x="466" y="58.26">FA(30:0)</text><text x="466" y="65.14">FA(23:0)</text><text x="466" y="72.02">FA(21:0)</text><text x="466" y="78.90">FA(20:4)</text><text x="466" y="85.78">PC(17:3;23:5)</text><text x="466" y="92.66">PC(19:1;20:4)</text><text x="466" y="99.54">PC(42:9)</text><text x="466" y="106.42">LPE(P-18:1)</text><text x="466" y="113.30">PC(34:5)</text><text x="466" y="120.18">PC(42:10)</text><text x="466" y="127.06">FA(22:3)</text><text x="466" y="133.94">PC(O-39:10)</text><text x="466" y="140.82">FA(22:6)</text><text x="466" y="147.70">PC(38:5)</text><text x="466" y="154.58">PE(16:2;20:4)</text><text x="466" y="161.46">PC(19:0;22:6)</text><text x="466" y="168.34">Cer(d18:1;18:0)</text><text x="466" y="175.22">DG(16:0;20:4)</text><text x="466" y="182.10">DG(18:0;20:4)</text><text x="466" y="188.98">Cer(d18:1;16:0)</text><text x="466" y="195.86">Cer(d18:2;18:0)</text><text x="466" y="202.74">PE(17:0;20:4)</text><text x="466" y="209.62">PC(O-36:1)</text><text x="466" y="216.50">PC(O-35:1)</text><text x="466" y="223.38">PI(18:1;20:4)</text><text x="466" y="230.26">PC(O-44:5)</text><text x="466" y="237.14">PC(O-34:1)</text><text x="466" y="244.02">PC(39:6)</text><text x="466" y="250.90">DG(18:1;18:1)</text><text x="466" y="257.78">SM(d42:4)</text><text x="466" y="264.66">PE(16:0;16:1)</text><text x="466" y="271.54">PC(O-42:4)</text><text x="466" y="278.42">PE(22:3;20:4)</text><text x="466" y="285.30">PC(O-13:1;18:1)</text><text x="466" y="292.18">PE(P-16:0;18:1)</text><text x="466" y="299.06">PE(34:1)</text><text x="466" y="305.94">PC(O-14:1;18:2)</text><text x="466" y="312.82">PE(O-16:1;18:2)</text><text x="466" y="319.70">PC(13:1;18:1)</text><text x="466" y="326.58">PS(16:0;18:1)</text><text x="466" y="333.46">PA(O-20:3;16:1)</text><text x="466" y="340.34">PC(36:1)</text><text x="466" y="347.22">PA(O-20:2;20:4)</text><text x="466" y="354.10">PS(34:2)</text><text x="466" y="360.98">PC(O-32:0)</text><text x="466" y="367.86">PE(P-16:0;18:2)</text></g>
<path d="M415.5,58.2 L409.8,58.2 L409.8,219.3 L415.5,219.3" fill="none" stroke="#9a9a9a" stroke-width="0.8"/>
<line x1="415.6" y1="219.3" x2="415.6" y2="307.2" stroke="#5a3434" stroke-width="0.9" stroke-opacity="0.85"/>
<line x1="415.6" y1="35.5" x2="415.6" y2="58.2" stroke="#1a3a55" stroke-width="0.9" stroke-opacity="0.7"/>
<text transform="translate(402.7,176.8) rotate(-90)" font-size="6.1" font-style="italic" text-anchor="middle" fill="#555" color="#555">Top 50 by T-Test</text>
<defs><linearGradient id="cbar" x1="0" y1="0" x2="0" y2="1"><stop offset="0" stop-color="#8e0030"/><stop offset="0.14" stop-color="#dc1c38"/><stop offset="0.3" stop-color="#f06a52"/><stop offset="0.42" stop-color="#f8bca6"/><stop offset="0.5" stop-color="#f5f3f2"/><stop offset="0.6" stop-color="#b4dcec"/><stop offset="0.72" stop-color="#4cb0dc"/><stop offset="0.85" stop-color="#1888c4"/><stop offset="1" stop-color="#0a4878"/></linearGradient></defs>
<rect x="406.5" y="321.8" width="6.1" height="46.7" fill="url(#cbar)"/>
<text x="403.6" y="327.3" font-size="5.8" text-anchor="end" fill="#333" color="#333" font-weight="normal" >1</text>
<text x="403.3" y="368.8" font-size="5.8" text-anchor="end" fill="#333" color="#333" font-weight="normal" >−1</text>
<text x="438.8" y="377.2" font-size="5.9" text-anchor="middle" fill="#555" color="#555" font-weight="normal" >Lipidome</text>
<rect x="0.5" y="0.5" width="519" height="384" fill="none" stroke="#5e5e5e" stroke-width="1"/>
</svg></body></html>
